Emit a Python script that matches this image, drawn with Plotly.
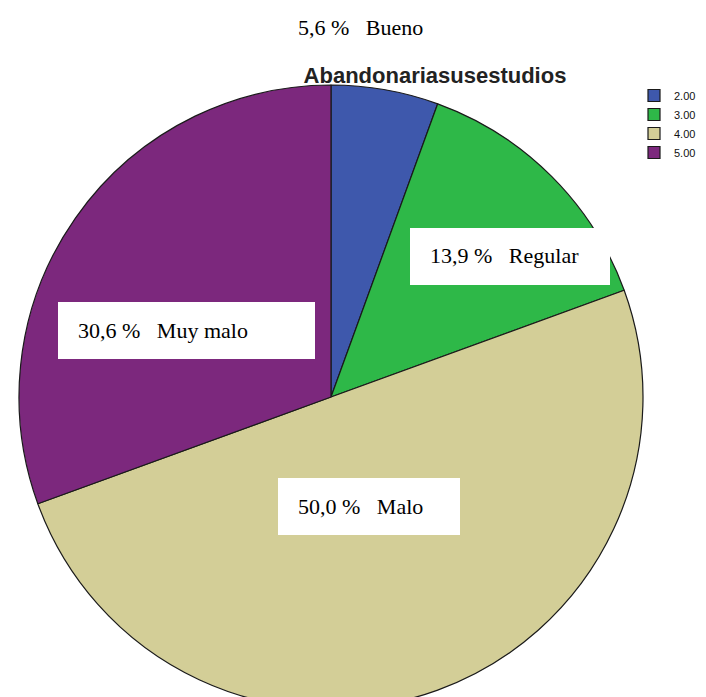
import plotly.graph_objects as go

W, H = 706, 712

labels = ["2.00", "3.00", "4.00", "5.00"]
counts = [2, 5, 18, 11]
colors = ["#3E58AC", "#2EB848", "#D3CE97", "#7C287D"]
slice_texts = ["5,6 %   Bueno", "13,9 %   Regular", "50,0 %   Malo", "30,6 %   Muy malo"]
title_text = "Abandonariasusestudios"

# page offset of the figure inside the html page (body margin)
OFFX, OFFY = 8, 8

def px(x):
    return (x - OFFX) / W

def py(y):
    return 1 - (y - OFFY) / H

# pie: center (331, 397) page px, radius 312
cx, cy, r = 331, 397, 312
fig = go.Figure(go.Pie(
    labels=labels,
    values=counts,
    sort=False,
    direction="clockwise",
    rotation=0,
    marker=dict(colors=colors, line=dict(color="#1a1a1a", width=1.2)),
    textinfo="none",
    domain=dict(x=[px(cx - r), px(cx + r)], y=[py(cy + r), py(cy - r)]),
))

# white label boxes (pixel positions)
boxes = [(410, 228, 610, 285), (58, 302, 315, 359), (278, 478, 460, 535)]
for x0, y0, x1, y1 in boxes:
    fig.add_shape(type="rect", xref="paper", yref="paper",
                  x0=px(x0), x1=px(x1), y0=py(y1), y1=py(y0),
                  fillcolor="white", line=dict(width=0), layer="above")

serif = dict(family="Liberation Serif, Times New Roman, serif", size=22, color="black")
fig.add_annotation(text=slice_texts[0], xref="paper", yref="paper",
                   x=px(296), y=py(27), xanchor="left", yanchor="middle",
                   showarrow=False, font=serif)
text_pos = [(428, 256), (296, 506), (76, 330)]
for t, (x, y) in zip(slice_texts[1:], text_pos):
    fig.add_annotation(text=t, xref="paper", yref="paper",
                       x=px(x), y=py(y), xanchor="left", yanchor="middle",
                       showarrow=False, font=serif)

fig.update_layout(
    width=W, height=H,
    margin=dict(l=0, r=0, t=0, b=0),
    paper_bgcolor="white",
    plot_bgcolor="white",
    title=dict(text="<b>" + title_text + "</b>", x=px(435), y=py(75),
               xanchor="center", yanchor="middle",
               font=dict(family="Liberation Sans, Arial, sans-serif", size=22, color="#222222")),
    legend=dict(x=px(634), y=py(81), xanchor="left", yanchor="top",
                font=dict(family="Liberation Sans, Arial, sans-serif", size=11, color="#111111"),
                bgcolor="rgba(0,0,0,0)", itemwidth=30, tracegroupgap=0),
    showlegend=True,
)

fig.write_html("out.html")
